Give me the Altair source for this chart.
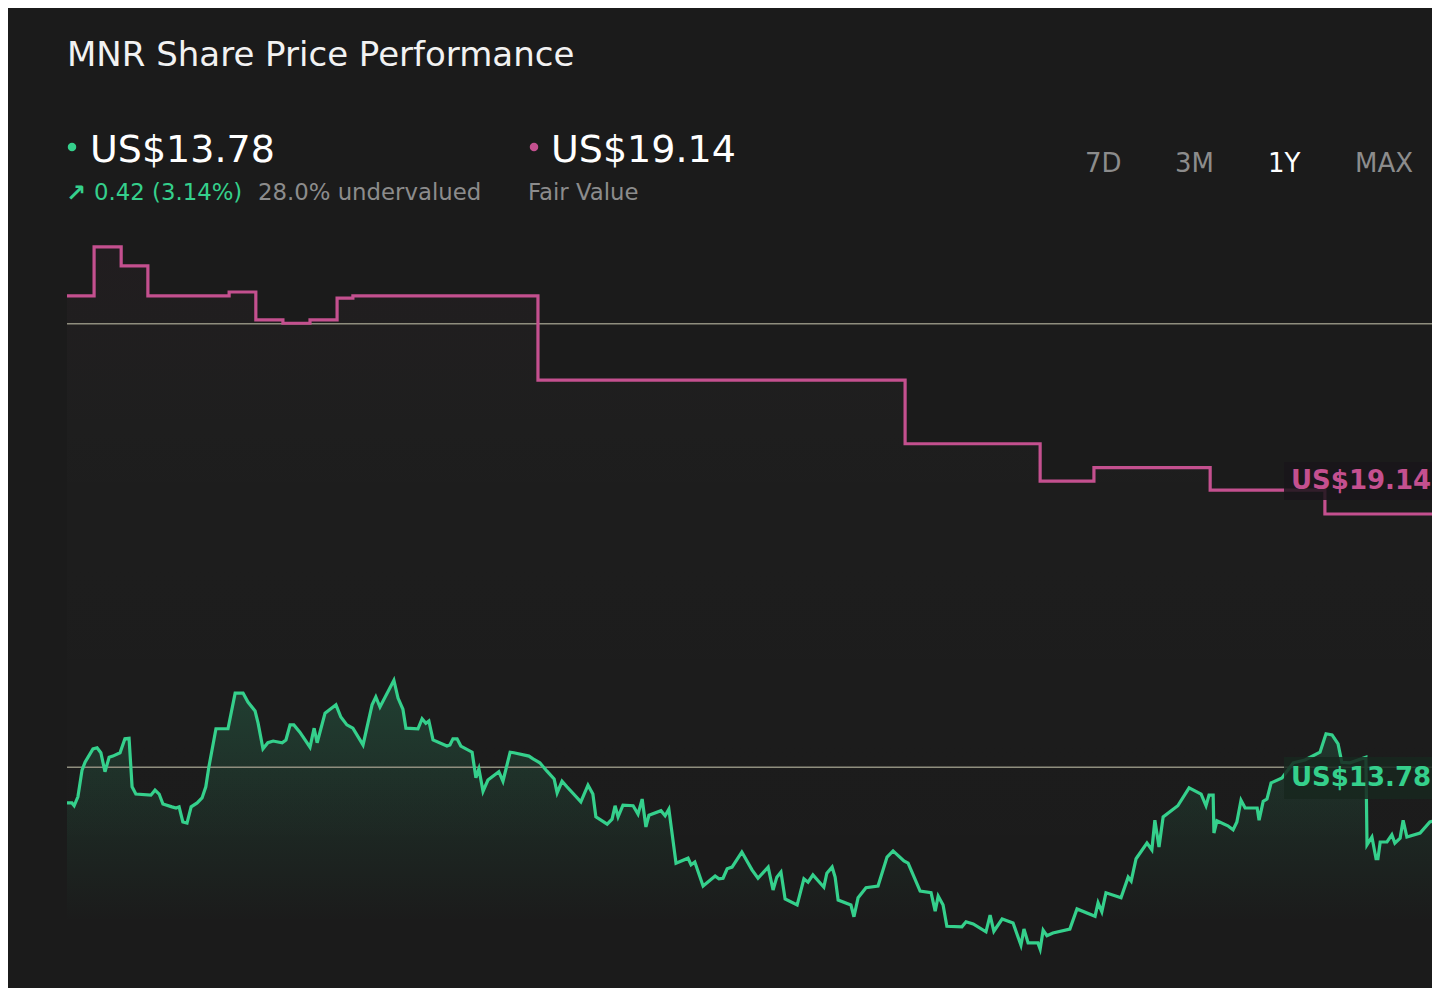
import altair as alt
import pandas as pd

# ---------------- data ----------------
price_days = [0.0,1.3,1.9,2.9,4.0,4.8,6.9,8.0,9.0,10.1,11.2,12.2,14.1,15.4,16.5,17.3,18.3,22.3,23.4,24.5,25.5,27.9,29.0,29.8,30.8,31.9,33.0,34.6,35.9,36.9,37.7,39.6,42.8,44.7,46.8,48.1,50.0,50.8,52.1,53.4,54.8,57.2,58.2,59.3,60.3,61.9,64.6,65.7,66.5,68.6,71.5,72.8,74.4,76.0,78.7,81.1,82.1,83.2,86.9,88.0,89.3,90.1,93.3,94.4,95.4,96.2,97.3,101.0,101.8,102.6,103.7,104.7,107.7,108.7,109.5,110.6,111.9,114.8,115.9,117.8,118.8,122.8,123.9,125.7,127.6,129.5,130.3,131.6,132.9,136.6,138.5,139.8,140.6,143.6,144.9,145.7,146.5,147.8,150.5,151.8,152.9,153.9,154.7,157.9,159.0,160.0,161.9,165.1,165.9,166.9,169.1,172.3,173.3,174.4,175.5,176.8,179.4,182.1,183.7,186.4,187.7,188.7,189.8,190.9,194.1,195.9,197.0,198.3,201.2,202.0,203.4,204.2,205.0,208.4,209.2,210.3,212.4,215.6,218.0,219.6,222.5,223.6,226.8,229.7,230.8,231.6,232.9,233.9,237.9,239.0,240.9,244.3,245.4,246.4,248.6,251.5,253.6,254.4,255.5,258.1,258.7,259.5,260.5,262.1,266.6,268.5,273.3,274.1,275.1,276.2,280.2,282.1,282.9,284.2,287.1,288.4,289.2,290.3,291.4,295.3,298.3,301.5,302.8,303.6,304.7,304.9,305.7,308.6,310.0,311.0,312.1,313.2,316.4,316.9,318.0,319.0,320.1,323.0,326.0,329.1,333.1,334.7,336.3,337.9,338.9,341.1,345.3,345.6,346.9,348.0,348.5,349.1,350.9,352.2,353.0,354.4,355.2,356.2,359.7,362.3,363.9,365.0]

price_values = [13.96,13.96,13.91,14.07,14.55,14.69,14.93,14.95,14.86,14.52,14.78,14.80,14.86,15.11,15.12,14.25,14.12,14.10,14.19,14.12,13.94,13.89,13.87,13.89,13.62,13.60,13.89,13.96,14.05,14.25,14.60,15.29,15.29,15.93,15.93,15.77,15.61,15.39,14.93,15.04,15.07,15.04,15.09,15.36,15.36,15.23,14.96,15.30,15.04,15.57,15.72,15.50,15.36,15.30,15.00,15.72,15.86,15.68,16.16,15.84,15.64,15.30,15.29,15.47,15.39,15.43,15.09,14.98,15.00,15.11,15.11,14.98,14.87,14.41,14.57,14.17,14.37,14.52,14.35,14.87,14.86,14.80,14.75,14.68,14.53,14.39,14.14,14.35,14.25,13.98,14.28,14.12,13.71,13.58,13.67,13.91,13.71,13.92,13.91,13.76,14.03,13.53,13.74,13.82,13.73,13.85,12.88,12.97,12.85,12.90,12.47,12.65,12.60,12.61,12.78,12.81,13.08,12.76,12.61,12.81,12.40,12.63,12.72,12.24,12.13,12.60,12.54,12.67,12.45,12.70,12.81,12.63,12.22,12.13,11.92,12.26,12.44,12.47,12.99,13.10,12.92,12.88,12.38,12.35,12.02,12.29,12.13,11.75,11.74,11.83,11.79,11.65,11.95,11.66,11.88,11.81,11.41,11.70,11.45,11.45,11.34,11.68,11.58,11.63,11.70,12.06,11.93,12.17,12.01,12.35,12.26,12.63,12.56,12.96,13.24,13.12,13.65,13.17,13.71,13.91,14.23,14.12,13.91,14.10,14.10,13.42,13.64,13.55,13.48,13.62,14.01,13.87,13.87,13.65,13.99,14.03,14.32,14.41,14.68,14.73,14.87,15.20,15.18,15.02,14.69,14.68,14.78,13.21,13.35,12.96,12.96,13.26,13.26,13.39,13.24,13.33,13.65,13.35,13.42,13.62,13.65,13.78]

fv_days = [0.0, 7.2, 14.4, 21.5, 43.1, 50.2, 57.4, 64.6, 71.8, 76.0, 125.2, 222.8, 258.7, 273.0, 303.9, 334.4, 365.0]
fv_values = [23.05, 23.93, 23.59, 23.05, 23.12, 22.62, 22.56, 22.62, 23.01, 23.05, 21.54, 20.40, 19.73, 19.97, 19.57, 19.14, 19.14]

ref_levels = [22.55, 14.60]

title_text = "MNR Share Price Performance"
price_label = "US$13.78"
arrow_text = "↗"
change_label = "0.42 (3.14%)"
valuation_label = "28.0% undervalued"
fv_label = "US$19.14"
fv_caption = "Fair Value"
periods = ["7D", "3M", "1Y", "MAX"]

# ---------------- styles ----------------
BG = "#1b1b1b"
GREEN = "#35d08c"
PINK = "#c4508f"
GRAY = "#8c8c8c"
FONT = "DejaVu Sans"
AREA_BASE = 11.8

n = min(len(price_days), len(price_values))
price_df = pd.DataFrame({"day": price_days[:n], "price": price_values[:n]})
price_df["base"] = AREA_BASE
fv_df = pd.DataFrame({"day": fv_days, "fv": fv_values})
fv_df["base"] = AREA_BASE
rules_df = pd.DataFrame({"level": ref_levels})
last_fv_df = pd.DataFrame({"v": [fv_values[-1]], "t": [fv_label]})
last_price_df = pd.DataFrame({"v": [price_values[n - 1]], "t": [price_label]})
dummy = pd.DataFrame({"k": [0]})

xs = alt.Scale(domain=[0, 365], range=[59, 1432])
ys = alt.Scale(domain=[11, 25], range=[960.07, 179.15], nice=False, zero=False)


def X(f):
    return alt.X(f, type="quantitative", scale=xs, axis=None)


def Y(f):
    return alt.Y(f, type="quantitative", scale=ys, axis=None)


price_area = alt.Chart(price_df).mark_area(
    color=alt.Gradient(
        gradient="linear", x1=1, x2=1, y1=0, y2=1,
        stops=[alt.GradientStop(color="rgba(53,208,140,0.20)", offset=0),
               alt.GradientStop(color="rgba(53,208,140,0.06)", offset=0.6),
               alt.GradientStop(color="rgba(53,208,140,0.0)", offset=0.9)]),
).encode(x=X("day"), y=Y("price"), y2="base:Q")

fv_area = alt.Chart(fv_df).mark_area(
    interpolate="step-after",
    color=alt.Gradient(
        gradient="linear", x1=1, x2=1, y1=0, y2=1,
        stops=[alt.GradientStop(color="rgba(196,80,143,0.035)", offset=0),
               alt.GradientStop(color="rgba(255,255,255,0.012)", offset=0.3),
               alt.GradientStop(color="rgba(255,255,255,0.0)", offset=1)]),
).encode(x=X("day"), y=Y("fv"), y2="base:Q")

rules = alt.Chart(rules_df).mark_rule(color="#8f8e7e", strokeWidth=1.5).encode(
    y=Y("level"), x=alt.value(59), x2=alt.value(1432))

fv_line = alt.Chart(fv_df).mark_line(
    interpolate="step-after", color=PINK, strokeWidth=3.2
).encode(x=X("day"), y=Y("fv"))

price_line = alt.Chart(price_df).mark_line(
    color=GREEN, strokeWidth=3.2
).encode(x=X("day"), y=Y("price"))

fv_box = alt.Chart(last_fv_df).mark_rect(color="#19151a", opacity=0.85, height=38, yOffset=-33).encode(
    y=Y("v"), x=alt.value(1276), x2=alt.value(1440))
price_box = alt.Chart(last_price_df).mark_rect(color="#18271f", opacity=0.85, height=42, yOffset=-35).encode(
    y=Y("v"), x=alt.value(1276), x2=alt.value(1440))

fv_tag = alt.Chart(last_fv_df).mark_text(
    font=FONT, fontSize=26, fontWeight="bold", color=PINK, align="left", baseline="middle", dy=-33
).encode(y=Y("v"), x=alt.value(1283), text="t:N")
price_tag = alt.Chart(last_price_df).mark_text(
    font=FONT, fontSize=26, fontWeight="bold", color=GREEN, align="left", baseline="middle", dy=-35
).encode(y=Y("v"), x=alt.value(1283), text="t:N")


def label(text, x, y, size, color, weight="normal"):
    return alt.Chart(dummy).mark_text(
        font=FONT, fontSize=size, color=color, align="left", baseline="alphabetic",
        fontWeight=weight, text=text
    ).encode(x=alt.value(x), y=alt.value(y))


def dot(x, y, color):
    return alt.Chart(dummy).mark_circle(color=color, size=72, opacity=1).encode(
        x=alt.value(x), y=alt.value(y))


header = [
    label(title_text, 59, 58, 34, "#f2f2f2"),
    dot(64, 139, GREEN),
    label(price_label, 82, 154, 38, "#ffffff"),
    label(arrow_text, 58, 193, 24, GREEN, "bold"),
    label(change_label, 86, 192, 22.8, GREEN),
    label(valuation_label, 250, 192, 22.8, GRAY),
    dot(526, 139, PINK),
    label(fv_label, 543, 154, 38, "#ffffff"),
    label(fv_caption, 520, 192, 22.8, GRAY),
]
period_x = [1077, 1167, 1260, 1347]
for p, px in zip(periods, period_x):
    header.append(label(p, px, 164, 26, "#ffffff" if p == "1Y" else GRAY))

chart = alt.layer(
    fv_area, price_area, rules, fv_line, price_line,
    fv_box, price_box, fv_tag, price_tag, *header
).properties(
    width=1424, height=980, background=BG, padding=0,
    autosize=alt.AutoSizeParams(type="none"),
).configure_view(strokeWidth=0)

chart.save("out.html", embed_options={"renderer": "svg", "actions": False})
